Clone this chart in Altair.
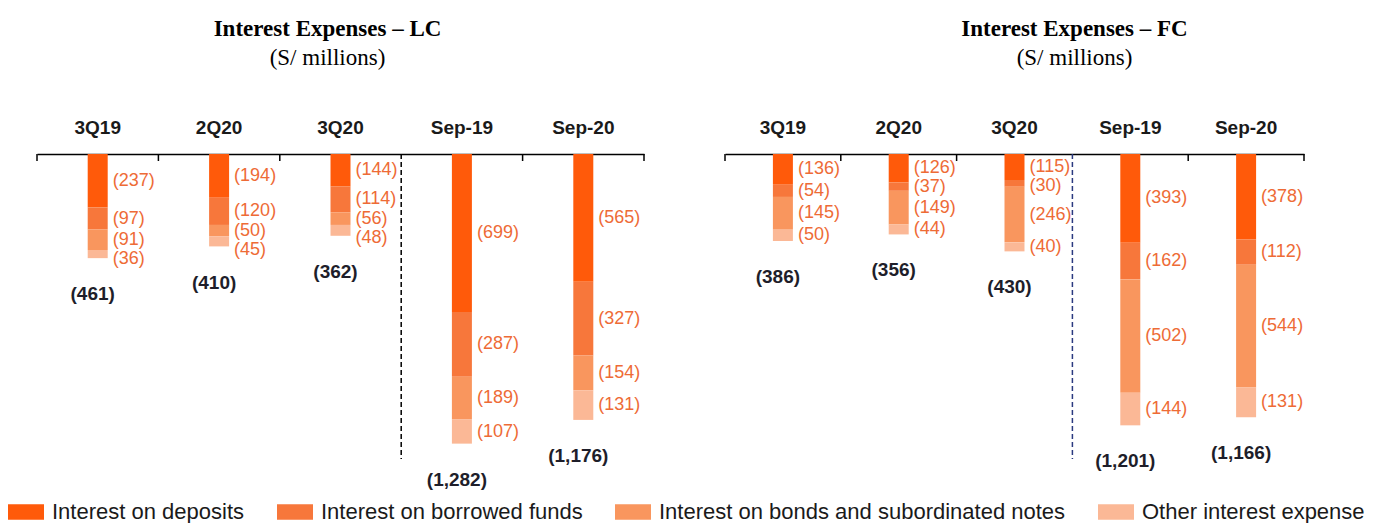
import altair as alt
import pandas as pd

categories = ["3Q19", "2Q20", "3Q20", "Sep-19", "Sep-20"]
series = ["Interest on deposits", "Interest on borrowed funds",
          "Interest on bonds and subordinated notes", "Other interest expense"]
colors = ["#FF5A0A", "#F7773B", "#F9965E", "#FBB896"]

lc_deposits = [237, 194, 144, 699, 565]
lc_borrowed = [97, 120, 114, 287, 327]
lc_bonds = [91, 50, 56, 189, 154]
lc_other = [36, 45, 48, 107, 131]
lc_totals = [461, 410, 362, 1282, 1176]

fc_deposits = [136, 126, 115, 393, 378]
fc_borrowed = [54, 37, 30, 162, 112]
fc_bonds = [145, 149, 246, 502, 544]
fc_other = [50, 44, 40, 144, 131]
fc_totals = [386, 356, 430, 1201, 1166]

PLOT_H = 305
DOMAIN_MAX = 1350
LABEL_GAP_PX = 19


def fmt(v):
    return "(" + format(v, ",") + ")"


def build(dep, bor, bon, oth, totals):
    rows = []
    gap = LABEL_GAP_PX * DOMAIN_MAX / PLOT_H
    for i, c in enumerate(categories):
        vals = [dep[i], bor[i], bon[i], oth[i]]
        start = 0
        prev = None
        for s, v in zip(series, vals):
            mid = start + v / 2
            pos = mid if prev is None else max(mid, prev + gap)
            prev = pos
            rows.append(dict(cat=c, series=s, start=start, end=start + v,
                             lpos=pos, label=fmt(v)))
            start += v
    seg = pd.DataFrame(rows)
    tot = pd.DataFrame(dict(cat=categories, total=totals,
                            tlabel=[fmt(t) for t in totals]))
    return seg, tot


def panel(dep, bor, bon, oth, totals, title, dx, dash_color, width):
    seg, tot = build(dep, bor, bon, oth, totals)
    axis = alt.Axis(orient="top", title=None, labelAngle=0, labelFont="Liberation Sans",
                    labelFontSize=19, labelFontWeight="bold", labelColor="#1a1a1a",
                    ticks=False, domainColor="black", domainWidth=1.5,
                    labelPadding=17, grid=False)
    xs = alt.Scale(domain=categories, paddingInner=0, paddingOuter=0)
    ys = alt.Scale(domain=[0, DOMAIN_MAX], reverse=True)

    def X(**kw):
        return alt.X("cat:N", sort=categories, scale=xs, axis=axis, **kw)

    bars = alt.Chart(seg).mark_bar(size=20).encode(
        x=X(),
        y=alt.Y("start:Q", scale=ys, axis=None),
        y2="end:Q",
        color=alt.Color("series:N", sort=series,
                        scale=alt.Scale(domain=series, range=colors),
                        legend=alt.Legend(orient="none", direction="horizontal",
                                          legendX=-29, legendY=340, title=None,
                                          symbolType="M-1,-0.43H1V0.43H-1Z",
                                          symbolSize=1296, symbolStrokeWidth=0,
                                          labelFont="Liberation Sans", labelFontSize=22,
                                          labelColor="#1a1a1a", columnPadding=32,
                                          labelOffset=8, labelLimit=700)),
    )
    labels = alt.Chart(seg).mark_text(align="left", baseline="middle", dx=15,
                                      fontSize=18, font="Liberation Sans",
                                      color="#EE6B36").encode(
        x=X(), y=alt.Y("lpos:Q", scale=ys, axis=None), text="label:N")
    tots = alt.Chart(tot).mark_text(align="center", baseline="middle", dx=-5, dy=36,
                                    fontSize=19, fontWeight="bold", font="Liberation Sans",
                                    color="#1E1E2A").encode(
        x=X(), y=alt.Y("total:Q", scale=ys, axis=None), text="tlabel:N")
    tick_df = pd.DataFrame(dict(cat=[c for c in categories if c != "Sep-19"]))
    ticks = alt.Chart(tick_df).mark_rule(color="black", strokeWidth=1.5).encode(
        x=X(bandPosition=0), y=alt.value(0), y2=alt.value(7))
    end_tick = alt.Chart(pd.DataFrame(dict(cat=[categories[-1]]))).mark_rule(
        color="black", strokeWidth=1.5).encode(
        x=X(bandPosition=1), y=alt.value(0), y2=alt.value(7))
    dash = alt.Chart(pd.DataFrame(dict(cat=["Sep-19"]))).mark_rule(
        color=dash_color, strokeWidth=1.5, strokeDash=[5, 3]).encode(
        x=X(bandPosition=0), y=alt.value(0), y2=alt.value(PLOT_H))

    return alt.layer(bars, labels, tots, ticks, end_tick, dash).properties(
        width=width, height=PLOT_H,
        title=alt.TitleParams(text=title, subtitle="(S/ millions)",
                              font="Liberation Serif", fontSize=23, fontWeight="bold",
                              color="black", subtitleFont="Liberation Serif",
                              subtitleFontSize=23, subtitleFontWeight="normal",
                              subtitleColor="black", subtitlePadding=6,
                              anchor="middle", dx=dx, offset=48))


lc = panel(lc_deposits, lc_borrowed, lc_bonds, lc_other, lc_totals,
           "Interest Expenses – LC", -13, "black", 607)
fc = panel(fc_deposits, fc_borrowed, fc_bonds, fc_other, fc_totals,
           "Interest Expenses – FC", 60, "#2B3A80", 579)

chart = alt.hconcat(lc, fc, spacing=81, bounds="flush").properties(
    padding={"left": 0, "top": 10, "right": 0, "bottom": 0},
    background="white"
).configure_view(stroke=None)

chart.save("out.html", embed_options={"renderer": "svg", "actions": False})
